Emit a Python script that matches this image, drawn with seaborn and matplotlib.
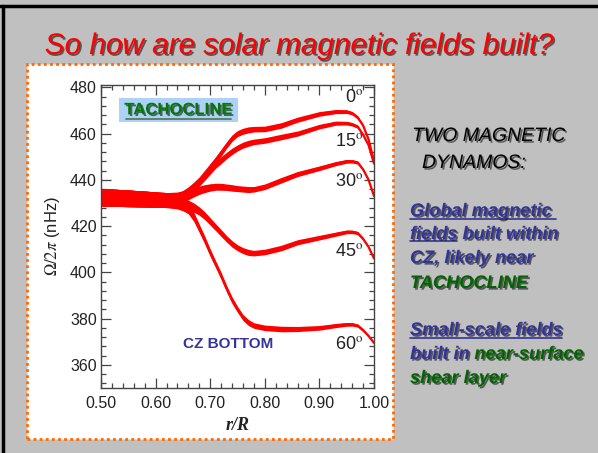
import numpy as np
import pandas as pd
import matplotlib
matplotlib.use('Agg')
import matplotlib.pyplot as plt
import matplotlib.patheffects as pe
from matplotlib.patches import Rectangle
from matplotlib.lines import Line2D
from matplotlib.ticker import MultipleLocator
import seaborn as sns

# rotation rate vs radius
radius = [0.50, 0.55, 0.60, 0.62, 0.64, 0.65, 0.66, 0.67, 0.68, 0.69, 0.70, 0.71, 0.72, 0.73, 0.74,
          0.75, 0.76, 0.77, 0.78, 0.80, 0.83, 0.86, 0.90, 0.93, 0.95, 0.96, 0.97, 0.98, 0.99, 1.00]
omega_00 = [432.5, 432, 431.5, 431.5, 432, 433, 434.8, 437, 439.5, 442.5, 445.5, 448.5, 451.7, 455, 458,
            460, 461, 461.6, 461.9, 462, 463.5, 466, 468.5, 469.5, 469.5, 468.8, 467, 463.5, 457.5, 448]
omega_15 = [432.5, 432, 431.5, 431.5, 432, 432.8, 434.3, 436.5, 439, 441.5, 444, 446.5, 448.5, 450.5, 452.3,
            453.8, 455, 455.8, 456.4, 457, 458.5, 460, 463, 464.5, 464.5, 464, 463, 459.5, 455, 447]
omega_30 = [432.5, 432, 431.5, 431.5, 432, 432.6, 433.6, 434.6, 435.5, 436.2, 436.7, 437, 437, 436.8, 436.5,
            436.2, 436, 435.8, 435.9, 437, 439.8, 442.5, 445, 447, 448, 448, 447.5, 444.5, 440, 433]
omega_45 = [432.5, 432, 431.5, 431, 430.5, 430, 429, 428, 426.5, 424.5, 422, 419.5, 417, 414.5, 412.3,
            410.6, 409.4, 408.6, 408.3, 408.8, 410.5, 413, 415, 416.5, 417.5, 417.5, 417, 414.5, 411, 406]
omega_60 = [432.5, 432, 431.5, 431, 430, 429, 427.5, 424, 419, 414, 408.5, 403.5, 398.5, 393, 388,
            384, 380.5, 378.3, 377, 376, 375.5, 375.5, 376, 377, 377.5, 377.5, 377, 375, 372.5, 369.5]
spread = [3.8, 3.6, 3.3, 3.0, 2.6, 2.4, 2.2, 2.0, 1.8, 1.7, 1.6, 1.5, 1.5, 1.4, 1.4,
          1.3, 1.3, 1.3, 1.2, 1.2, 1.2, 1.1, 1.0, 0.9, 0.8, 0.75, 0.7, 0.6, 0.5, 0.4]
latitudes = ['0°', '15°', '30°', '45°', '60°']
label_y = [475.8, 456.5, 439.3, 409.2, 369.0]

series = [omega_00, omega_15, omega_30, omega_45, omega_60]
df = pd.concat([pd.DataFrame({'r': radius, 'omega': s, 'lat': lat})
                for s, lat in zip(series, latitudes)])

sns.set_theme(style='ticks')
plt.rcParams['font.family'] = ['Liberation Sans', 'DejaVu Sans']
plt.rcParams['mathtext.fontset'] = 'stix'

W, H = 598, 453
fig = plt.figure(figsize=(W / 100, H / 100), dpi=100)
fig.patch.set_facecolor('#c0c0c0')

def px(x, y):
    return x / W, 1 - y / H

# slide frame (top and left dark edge)
fig.add_artist(Line2D([0, 1], [1 - 5.5 / H] * 2, transform=fig.transFigure, color='black', lw=2.5))
fig.add_artist(Line2D([2.5 / W] * 2, [0, 1 - 5.5 / H], transform=fig.transFigure, color='black', lw=2.5))

# white panel with dotted orange border
x0, y0 = px(27, 439)
fig.add_artist(Rectangle((x0, y0), (393 - 27) / W, (439 - 64) / H, transform=fig.transFigure,
                         facecolor='white', edgecolor='#ff6a00', lw=2, linestyle=(0, (1, 1.2)),
                         zorder=-1))

shadow = [pe.withSimplePatchShadow(offset=(1.2, -1.2), shadow_rgbFace='#111111', alpha=0.6)]

fig.text(0.5, 1 - 46 / H, 'So how are solar magnetic fields built?', color='red',
         fontsize=21.4, style='italic', ha='center', va='center', path_effects=shadow)

ax = fig.add_axes([101 / W, 1 - 388 / H, (374 - 101) / W, (388 - 85) / H])
ax.set_facecolor('white')
for s, lat in zip(series, latitudes):
    ax.fill_between(radius, np.array(s) - spread, np.array(s) + spread, color='red', lw=0)
sns.lineplot(data=df, x='r', y='omega', hue='lat', palette={l: 'red' for l in latitudes},
             lw=1.6, legend=False, ax=ax, sort=False)

ax.set_xlim(0.5, 1.0)
ax.set_ylim(350, 481)
ax.set_xticks([0.5, 0.6, 0.7, 0.8, 0.9, 1.0])
ax.set_xticklabels(['0.50', '0.60', '0.70', '0.80', '0.90', '1.00'])
ax.set_yticks([360, 380, 400, 420, 440, 460, 480])
ax.xaxis.set_minor_locator(MultipleLocator(0.02))
ax.yaxis.set_minor_locator(MultipleLocator(4))
ax.tick_params(which='both', direction='in', top=True, right=True, color='#444444',
               labelsize=11.5, labelcolor='#222222', width=0.9)
ax.tick_params(which='major', length=7)
ax.tick_params(which='minor', length=3.5)
ax.tick_params(axis='x', which='major', pad=6)
ax.tick_params(axis='y', which='major', pad=3)
for sp in ax.spines.values():
    sp.set_color('#444444')
    sp.set_linewidth(1)

ax.set_xlabel('r/R', fontfamily='Liberation Serif', style='italic', weight='bold',
              fontsize=13, color='#222222', labelpad=4)
ax.set_ylabel(r'$\Omega/2\pi$ (nHz)', fontsize=12, color='#222222', labelpad=6)

for lat, yl in zip(latitudes, label_y):
    ax.text(0.981, yl, lat.replace('°', r'$^{\rm o}$'), ha='right', va='center',
            fontsize=13, color='#222222')

# TACHOCLINE tag
ax.add_patch(Rectangle((0.066, 0.878), 0.436, 0.079, transform=ax.transAxes,
                       facecolor='#add2f7', edgecolor='none', zorder=3))
tag = ax.text(0.282, 0.918, 'TACHOCLINE', color='#007a00', fontsize=12, weight='bold',
              ha='center', va='center', transform=ax.transAxes, path_effects=shadow, zorder=4)
ax.plot([0.09, 0.477], [0.889, 0.889], transform=ax.transAxes, color='#5a7a5a', lw=1.3, zorder=4)

ax.text(0.732, 369, 'CZ BOTTOM', color='#333399', fontsize=11, weight='bold',
        ha='center', va='center')

# right-hand notes
navy = '#333399'
green = '#006400'
renderer = fig.canvas.get_renderer()

def put_line(x, y, pieces, weight='bold', size=13.1):
    for text, color, under in pieces:
        fx, fy = px(x, y)
        t = fig.text(fx, fy, text, color=color, fontsize=size, style='italic', weight=weight,
                     ha='left', va='baseline', path_effects=shadow)
        bb = t.get_window_extent(renderer)
        if under:
            uy = 1 - (y + 2.5) / H
            fig.add_artist(Line2D([bb.x0 / W, bb.x1 / W], [uy, uy], transform=fig.transFigure,
                                  color=color, lw=1.2))
        x = bb.x1

put_line(412, 141, [('TWO MAGNETIC', 'black', False)], weight='normal', size=14)
put_line(422, 168, [('DYNAMOS:', 'black', False)], weight='normal', size=14)
put_line(410, 216, [('Global magnetic ', navy, True)])
put_line(410, 239, [('fields', navy, True), (' built within', navy, False)])
put_line(410, 263, [('CZ, likely near', navy, False)])
put_line(410, 288, [('TACHOCLINE', green, False)])
put_line(410, 335, [('Small-scale fields', navy, True)])
put_line(410, 359, [('built in ', navy, False), ('near-surface', green, False)])
put_line(410, 383, [('shear layer', green, False)])

fig.savefig('out.png', dpi=100, facecolor=fig.get_facecolor())
